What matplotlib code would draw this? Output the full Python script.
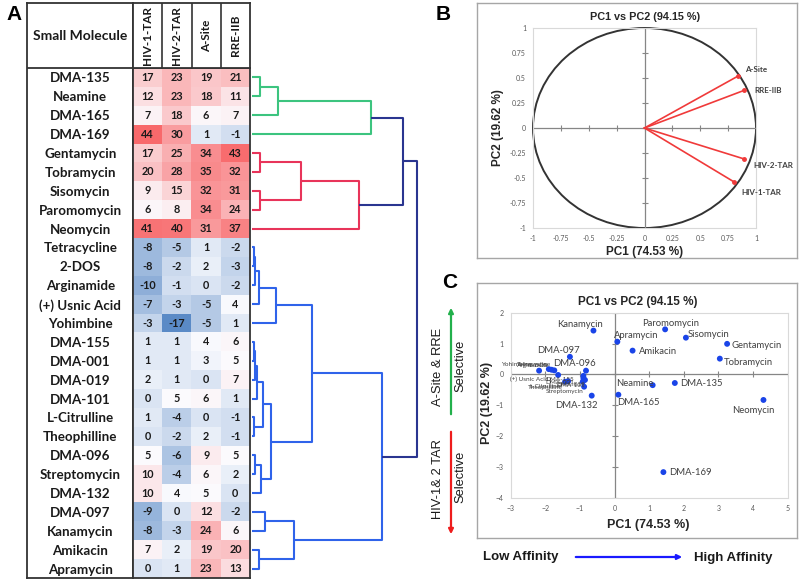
import numpy as np
import matplotlib
matplotlib.use("Agg")
import matplotlib.pyplot as plt
from matplotlib.colors import LinearSegmentedColormap, TwoSlopeNorm
from matplotlib.patches import Ellipse

plt.rcParams['font.family'] = ['Lato', 'DejaVu Sans']

# ---------------- data ----------------
molecules = ["DMA-135", "Neamine", "DMA-165", "DMA-169", "Gentamycin", "Tobramycin",
             "Sisomycin", "Paromomycin", "Neomycin", "Tetracycline", "2-DOS", "Arginamide",
             "(+) Usnic Acid", "Yohimbine", "DMA-155", "DMA-001", "DMA-019", "DMA-101",
             "L-Citrulline", "Theophilline", "DMA-096", "Streptomycin", "DMA-132", "DMA-097",
             "Kanamycin", "Amikacin", "Apramycin"]
targets = ["HIV-1-TAR", "HIV-2-TAR", "A-Site", "RRE-IIB"]
hiv1 = [17, 12, 7, 44, 17, 20, 9, 6, 41, -8, -8, -10, -7, -3, 1, 1, 2, 0, 1, 0, 5, 10, 10, -9, -8, 7, 0]
hiv2 = [23, 23, 18, 30, 25, 28, 15, 8, 40, -5, -2, -1, -3, -17, 1, 1, 1, 5, -4, -2, -6, -4, 4, 0, -3, 2, 1]
asite = [19, 18, 6, 1, 34, 35, 32, 34, 31, 1, 2, 0, -5, -5, 4, 3, 0, 6, 0, 2, 9, 6, 5, 12, 24, 19, 23]
rre = [21, 11, 7, -1, 43, 32, 31, 24, 37, -2, -3, -2, 4, 1, 6, 5, 7, 1, -1, -1, 5, 2, 0, -2, 6, 20, 13]

# dendrogram merges: (child a, child b, merge height, colour group); ids >= 27 are clusters
merges = [
    (0, 1, 8, "g"), (27, 2, 26, "g"), (28, 3, 119, "g"),
    (4, 5, 8, "r"), (6, 7, 8, "r"), (30, 31, 49, "r"), (32, 8, 107, "r"),
    (29, 33, 151, "n"),
    (9, 10, 1.7, "b"), (35, 11, 2.7, "b"), (36, 12, 7, "b"), (37, 13, 23.7, "b"),
    (14, 15, 1.5, "b"), (39, 16, 2.5, "b"), (40, 17, 5.3, "b"), (18, 19, 1.7, "b"),
    (41, 42, 11, "b"), (20, 21, 2.7, "b"), (44, 22, 8.7, "b"), (43, 45, 18.7, "b"),
    (38, 46, 59.5, "b"), (23, 24, 12.7, "b"), (25, 26, 7, "b"), (48, 49, 42, "b"),
    (47, 50, 129.7, "b"), (34, 51, 164.7, "n"),
]

# PCA loadings (panel B)
load_pc1 = [0.80, 0.895, 0.835, 0.895]
load_pc2 = [-0.537, -0.31, 0.517, 0.377]

# PCA scores (panel C), same order as molecules
score_pc1 = [1.74, 1.10, 0.11, 1.41, 3.25, 3.04, 2.06, 1.46, 4.30, -1.82, -1.74, -1.90,
             -1.63, -2.18, -0.90, -0.90, -0.855, -0.92, -1.43, -1.34, -0.825, -0.88, -0.66,
             -1.29, -0.61, 0.52, 0.08]
score_pc2 = [-0.28, -0.35, -0.66, -3.17, 0.99, 0.51, 1.19, 1.46, -0.83, 0.15, 0.13, 0.17,
             -0.02, 0.12, -0.05, -0.13, -0.18, -0.24, -0.24, -0.22, 0.12, -0.40, -0.69,
             0.57, 1.42, 0.77, 1.06]

# ---------------- layout helpers ----------------
W, H = 800, 581
fig = plt.figure(figsize=(8, 5.81), dpi=100)
fig.patch.set_facecolor("white")


def axpx(x0, y0, x1, y1, **kw):
    return fig.add_axes([x0 / W, 1 - y1 / H, (x1 - x0) / W, (y1 - y0) / H], **kw)


def ftxt(x, y, s, **kw):
    return fig.text(x / W, 1 - y / H, s, **kw)


ARIAL = ['Liberation Sans', 'DejaVu Sans']
BORDER = "#333333"

# ---------------- Panel A: table ----------------
M = np.column_stack([hiv1, hiv2, asite, rre])
n = len(molecules)
cmap = LinearSegmentedColormap.from_list("excel3", ["#5A8AC6", "#FCFCFF", "#F8696B"])
norm = TwoSlopeNorm(vmin=M.min(), vcenter=np.median(M), vmax=M.max())

nm = axpx(27, 3, 133, 578)
nm.set_xlim(27, 133)
nm.set_ylim(578, 3)
nm.set_xticks([]); nm.set_yticks([])
for s in nm.spines.values():
    s.set_color(BORDER); s.set_linewidth(1.3)
nm.axhline(68, color=BORDER, lw=1.3)
nm.text(80, 36, "Small Molecule", ha="center", va="center", fontsize=10, fontweight="bold",
        color="#1a1a1a")

hm = axpx(133, 68, 250, 578)
hm.imshow(M, cmap=cmap, norm=norm, aspect="auto", interpolation="nearest")
for i in range(n):
    for j in range(len(targets)):
        hm.text(j, i, str(M[i, j]), ha="center", va="center", fontsize=7.8,
                fontweight="bold", color="#1a1a1a")
hm.set_xticks([])
hm.set_yticks(range(n))
hm.set_yticklabels(molecules, fontsize=9.6, fontweight="bold", ha="center", color="#1a1a1a")
hm.tick_params(axis="y", length=0, pad=38)
for s in hm.spines.values():
    s.set_color(BORDER); s.set_linewidth(1.3)

hdr = axpx(133, 3, 250, 68)
hdr.set_xlim(-0.5, len(targets) - 0.5)
hdr.set_ylim(0, 1)
hdr.set_xticks([]); hdr.set_yticks([])
for s in hdr.spines.values():
    s.set_color(BORDER); s.set_linewidth(1.3)
for k in np.arange(0.5, len(targets) - 0.5):
    hdr.axvline(k, color=BORDER, lw=1.2)
for j, t in enumerate(targets):
    hdr.text(j, 0.5, t, rotation=90, ha="center", va="center", fontsize=8.5,
             fontweight="bold", color="#1a1a1a")

# dendrogram
dn = axpx(252, 68, 420, 578)
dn.set_ylim(n - 0.5, -0.5)
dn.set_xlim(0, 168)
dn.axis("off")
link_colors = {"g": "#3cc47f", "r": "#e8345a", "b": "#2f63ea", "n": "#2a3590"}
ypos = {i: float(i) for i in range(n)}
hgt = {i: 0.0 for i in range(n)}
for k, (a, b, h, c) in enumerate(merges):
    cid = n + k
    dn.plot([hgt[a], h, h, hgt[b]], [ypos[a], ypos[a], ypos[b], ypos[b]],
            color=link_colors[c], lw=1.5, solid_capstyle="butt")
    ypos[cid] = (ypos[a] + ypos[b]) / 2
    hgt[cid] = h

ftxt(14, 15, "A", fontsize=15, fontweight="bold", family=ARIAL, ha="center", va="center")

# ---------------- Panel B ----------------
bf = axpx(477, 3, 797, 258)
bf.set_xticks([]); bf.set_yticks([])
for s in bf.spines.values():
    s.set_color("#a6a6a6"); s.set_linewidth(1.0)
bf.set_zorder(-1)

b = axpx(533, 28, 756, 228)
b.set_xlim(-1, 1); b.set_ylim(-1, 1)
bt = np.arange(-1, 1.01, 0.25)
b.set_xticks(bt); b.set_yticks(bt)
b.set_xticklabels([f"{v:g}" for v in bt])
b.set_yticklabels([f"{v:g}" for v in bt])
b.tick_params(length=0, labelsize=5, labelcolor="#595959", pad=5)
for s in b.spines.values():
    s.set_color("#d9d9d9"); s.set_linewidth(0.8)
b.axhline(0, color="#868686", lw=0.9)
b.axvline(0, color="#868686", lw=0.9)
b.plot(np.zeros_like(bt), bt, ls="none", marker="_", ms=4, color="#868686", mew=0.8)
b.plot(bt, np.zeros_like(bt), ls="none", marker="|", ms=4, color="#868686", mew=0.8)
b.add_patch(Ellipse((0, 0), 2, 2, fill=False, ec="#333333", lw=1.4, clip_on=False))
load_off = {"HIV-1-TAR": (28, -11), "HIV-2-TAR": (29, -7), "A-Site": (19, 7), "RRE-IIB": (24, 0)}
for t, x, y in zip(targets, load_pc1, load_pc2):
    b.plot([0, x], [0, y], color="#f03a3a", lw=1.2)
    b.plot([x], [y], marker="o", ms=2.5, color="#f03a3a")
    dx, dy = load_off[t]
    b.annotate(t, (x, y), xytext=(dx * 0.72, dy * 0.72), textcoords="offset points",
               ha="center", va="center", fontsize=5.8, fontweight="bold", color="#404040",
               annotation_clip=False)
ftxt(645, 17, "PC1 vs PC2 (94.15 %)", ha="center", va="center", fontsize=7.8,
     fontweight="bold", family=ARIAL, color="#262626")
ftxt(645, 252, "PC1 (74.53 %)", ha="center", va="center", fontsize=8.5,
     fontweight="bold", family=ARIAL, color="#262626")
ftxt(498, 128, "PC2 (19.62 %)", ha="center", va="center", fontsize=8.5, rotation=90,
     fontweight="bold", family=ARIAL, color="#262626")
ftxt(443, 14, "B", fontsize=15, fontweight="bold", family=ARIAL, ha="center", va="center")

# ---------------- Panel C ----------------
cf = axpx(477, 283, 797, 538)
cf.set_xticks([]); cf.set_yticks([])
for s in cf.spines.values():
    s.set_color("#a6a6a6"); s.set_linewidth(1.0)
cf.set_zorder(-1)

c = axpx(510.7, 312.7, 787.7, 497.7)
c.set_xlim(-3, 5); c.set_ylim(-4, 2)
cxt = np.arange(-3, 6, 1)
cyt = np.arange(-4, 3, 1)
c.set_xticks(cxt); c.set_yticks(cyt)
c.tick_params(length=0, labelsize=5, labelcolor="#595959", pad=5)
for s in c.spines.values():
    s.set_color("#d9d9d9"); s.set_linewidth(0.8)
c.axhline(0, color="#868686", lw=0.9)
c.axvline(0, color="#868686", lw=0.9)
c.plot(np.zeros_like(cyt), cyt, ls="none", marker="_", ms=4, color="#868686", mew=0.8)
c.plot(cxt, np.zeros_like(cxt), ls="none", marker="|", ms=4, color="#868686", mew=0.8)
c.scatter(score_pc1, score_pc2, s=18, color="#1a44e8", zorder=3, edgecolors="none")

big_off = {"Kanamycin": (-13, 6), "Paromomycin": (5, 6), "Apramycin": (19, 6),
           "Sisomycin": (23, 3), "Gentamycin": (30, -2), "Amikacin": (25, -1),
           "Tobramycin": (29, -4), "DMA-097": (-11, 6), "DMA-096": (-12, 7),
           "Neamine": (-18, 2), "DMA-135": (27, 0), "DMA-165": (20, -8),
           "Neomycin": (-10, -11), "DMA-169": (27, 0), "DMA-132": (-15, -10)}
small_off = {"Yohimbine": (-23, 6), "Arginamide": (-16, 4), "Tetracycline": (-18, 5),
             "2-DOS": (-16, 5), "(+) Usnic Acid": (-29, -4), "DMA-155": (-24, -4),
             "DMA-001": (-24, -4), "DMA-019": (-14, -5), "DMA-101": (-12, -4),
             "L-Citrulline": (-20, -5), "Theophilline": (-23, -6), "Streptomycin": (-19, -5)}
for name, x, y in zip(molecules, score_pc1, score_pc2):
    if name in big_off:
        dx, dy = big_off[name]; fs = 6.8
    else:
        dx, dy = small_off[name]; fs = 4.6
    c.annotate(name, (x, y), xytext=(dx * 0.72, dy * 0.72), textcoords="offset points",
               ha="center", va="center", fontsize=fs, color="#404040", annotation_clip=False)

ftxt(638, 302, "PC1 vs PC2 (94.15 %)", ha="center", va="center", fontsize=8.5,
     fontweight="bold", family=ARIAL, color="#262626")
ftxt(648, 525, "PC1 (74.53 %)", ha="center", va="center", fontsize=9,
     fontweight="bold", family=ARIAL, color="#262626")
ftxt(487, 403, "PC2 (19.62 %)", ha="center", va="center", fontsize=9, rotation=90,
     fontweight="bold", family=ARIAL, color="#262626")
ftxt(450, 283, "C", fontsize=15, fontweight="bold", family=ARIAL, ha="center", va="center")

# selectivity arrows
fig.add_artist(matplotlib.patches.FancyArrowPatch((451 / W, 1 - 417 / H), (451 / W, 1 - 305 / H),
               transform=fig.transFigure, arrowstyle="-|>", mutation_scale=7,
               color="#22b04b", lw=1.6))
fig.add_artist(matplotlib.patches.FancyArrowPatch((451 / W, 1 - 429 / H), (451 / W, 1 - 537 / H),
               transform=fig.transFigure, arrowstyle="-|>", mutation_scale=7,
               color="#ee1c1c", lw=1.6))
ftxt(438, 367, "A-Site & RRE", rotation=90, ha="center", va="center", fontsize=9.3,
     family=ARIAL, color="#1a1a1a")
ftxt(460, 366, "Selective", rotation=90, ha="center", va="center", fontsize=9.3,
     family=ARIAL, color="#1a1a1a")
ftxt(438, 479, "HIV-1& 2 TAR", rotation=90, ha="center", va="center", fontsize=9.3,
     family=ARIAL, color="#1a1a1a")
ftxt(460, 477, "Selective", rotation=90, ha="center", va="center", fontsize=9.3,
     family=ARIAL, color="#1a1a1a")

# affinity arrow
ftxt(521, 557, "Low Affinity", ha="center", va="center", fontsize=9.5, fontweight="bold",
     family=ARIAL, color="#1a1a1a")
ftxt(733, 558, "High Affinity", ha="center", va="center", fontsize=9.5, fontweight="bold",
     family=ARIAL, color="#1a1a1a")
fig.add_artist(matplotlib.patches.FancyArrowPatch((573 / W, 1 - 557 / H), (685 / W, 1 - 557 / H),
               transform=fig.transFigure, arrowstyle="-|>", mutation_scale=7,
               color="#1a1aff", lw=1.6))

fig.savefig("out.png", dpi=100)
